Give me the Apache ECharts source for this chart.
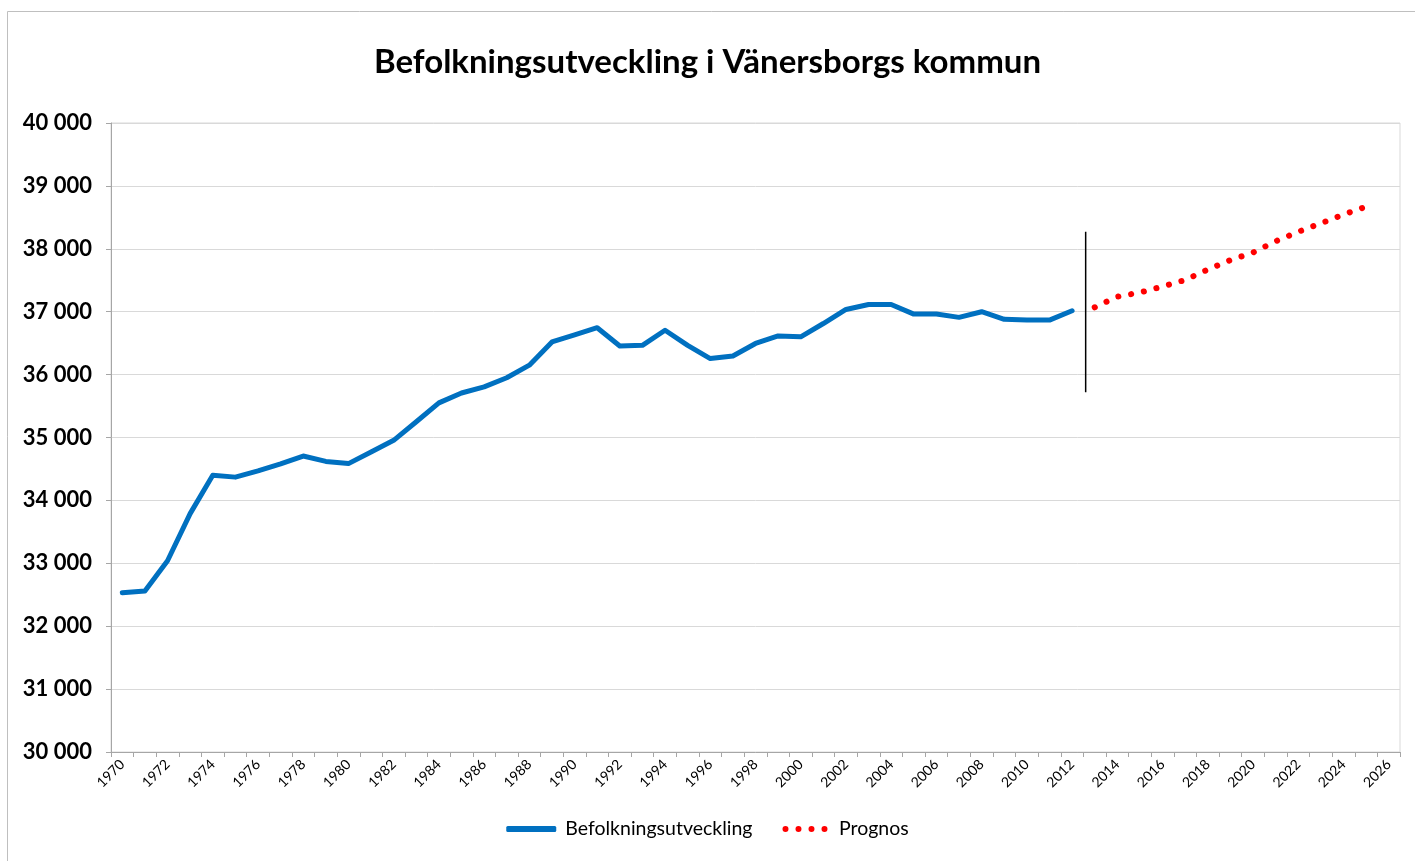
<!DOCTYPE html>
<html>
<head>
<meta charset="utf-8">
<title>Befolkningsutveckling i Vänersborgs kommun</title>
<script src="https://cdn.jsdelivr.net/npm/echarts@6/dist/echarts.min.js"></script>
<style>
  html, body { margin: 0; padding: 0; background: #fff; }
  #chart { width: 1415px; height: 861px; }
</style>
</head>
<body>
<div id="chart"></div>
<script>
// years on the x axis
const years = [];
for (let y = 1970; y <= 2026; y++) years.push(String(y));

// population 1970-2012
const befolkning = [
  32530, 32560, 33040, 33790, 34400, 34370, 34470, 34580, 34705, 34620,
  34585, 34770, 34955, 35250, 35550, 35708, 35805, 35950, 36150, 36520,
  36630, 36745, 36455, 36465, 36705, 36465, 36255, 36295, 36495, 36615,
  36600, 36812, 37035, 37115, 37115, 36962, 36962, 36910, 37000, 36878,
  36867, 36867, 37015
];

// forecast 2013-2025
const prognos = [
  37070, 37240, 37305, 37400, 37505, 37670, 37820, 37940, 38120, 38270,
  38405, 38545, 38670
];

// vertical separator between history and forecast (x in category index units)
const divider = [[42.6, 38270], [42.6, 35720]];

const yTicks = { min: 30000, max: 40000, step: 1000 };

// pad series to full category length
const befolkningData = years.map((y, i) => (i < befolkning.length ? befolkning[i] : null));
const prognosData = years.map((y, i) => {
  let k = i - befolkning.length;
  return k >= 0 && k < prognos.length ? prognos[k] : null;
});

const font = "Lato, 'Liberation Sans', sans-serif";

// legend icon: four red dots
const dotsIcon =
  "path://M0,3a3,3 0 1,0 6,0a3,3 0 1,0 -6,0z" +
  "M13,3a3,3 0 1,0 6,0a3,3 0 1,0 -6,0z" +
  "M26,3a3,3 0 1,0 6,0a3,3 0 1,0 -6,0z" +
  "M39,3a3,3 0 1,0 6,0a3,3 0 1,0 -6,0z";

let myChart = echarts.init(document.getElementById("chart"), null, { renderer: "canvas" });

let option = {
  animation: false,
  backgroundColor: "#fff",
  textStyle: { fontFamily: font },
  graphic: [
    {
      type: "rect",
      shape: { x: 7.5, y: 11.5, width: 1420, height: 870 },
      style: { fill: null, stroke: "#bfbfbf", lineWidth: 1 },
      silent: true,
    },
  ],
  title: {
    text: "Befolkningsutveckling i Vänersborgs kommun",
    left: "center",
    top: 41,
    textStyle: { fontFamily: font, fontSize: 33, fontWeight: "bold", color: "#000" },
  },
  legend: {
    bottom: 17,
    left: "center",
    itemWidth: 50,
    itemHeight: 6,
    itemGap: 30,
    textStyle: { fontFamily: font, fontSize: 19.5, color: "#000", padding: [0, 0, 0, 4] },
    data: [
      { name: "Befolkningsutveckling", icon: "roundRect", itemStyle: { color: "#0070c0" } },
      { name: "Prognos", icon: dotsIcon, itemStyle: { color: "#ff0000" } },
    ],
  },
  grid: {
    left: 111,
    right: 15,
    top: 123,
    bottom: 109,
    show: true,
    borderColor: "#d9d9d9",
    borderWidth: 1,
  },
  xAxis: [
    {
      type: "category",
      data: years,
      boundaryGap: true,
      axisLine: { lineStyle: { color: "#a6a6a6", width: 1 } },
      axisTick: { show: true, interval: 0, length: 5, lineStyle: { color: "#a6a6a6" } },
      axisLabel: {
        interval: 1,
        rotate: 45,
        margin: 10,
        fontFamily: font,
        fontSize: 14,
        color: "#000",
      },
      splitLine: { show: false },
    },
    {
      type: "value",
      min: -0.5,
      max: years.length - 0.5,
      show: false,
    },
  ],
  yAxis: {
    type: "value",
    min: yTicks.min,
    max: yTicks.max,
    interval: yTicks.step,
    axisLine: { show: true, onZero: false, lineStyle: { color: "#a6a6a6", width: 1 } },
    axisTick: { show: true, length: 5, lineStyle: { color: "#a6a6a6" } },
    axisLabel: {
      margin: 19,
      fontFamily: font,
      fontSize: 22,
      fontWeight: "bold",
      color: "#000",
      formatter: (v) => String(v).replace(/\B(?=(\d{3})+(?!\d))/g, " "),
    },
    splitLine: { lineStyle: { color: "#d9d9d9", width: 1 } },
  },
  series: [
    {
      name: "Befolkningsutveckling",
      type: "line",
      data: befolkningData,
      symbol: "none",
      color: "#0070c0",
      lineStyle: { color: "#0070c0", width: 5, cap: "round", join: "round" },
    },
    {
      name: "Prognos",
      type: "line",
      data: prognosData,
      symbol: "none",
      color: "#ff0000",
      lineStyle: { color: "#ff0000", width: 6, type: [0.1, 12.9], cap: "round" },
    },
    {
      name: "divider",
      type: "line",
      xAxisIndex: 1,
      data: divider,
      symbol: "none",
      silent: true,
      lineStyle: { color: "#000", width: 1.5 },
    },
  ],
};

if (option && typeof option === "object") {
  myChart.setOption(option);
}

window.addEventListener("resize", myChart.resize);
</script>
</body>
</html>
